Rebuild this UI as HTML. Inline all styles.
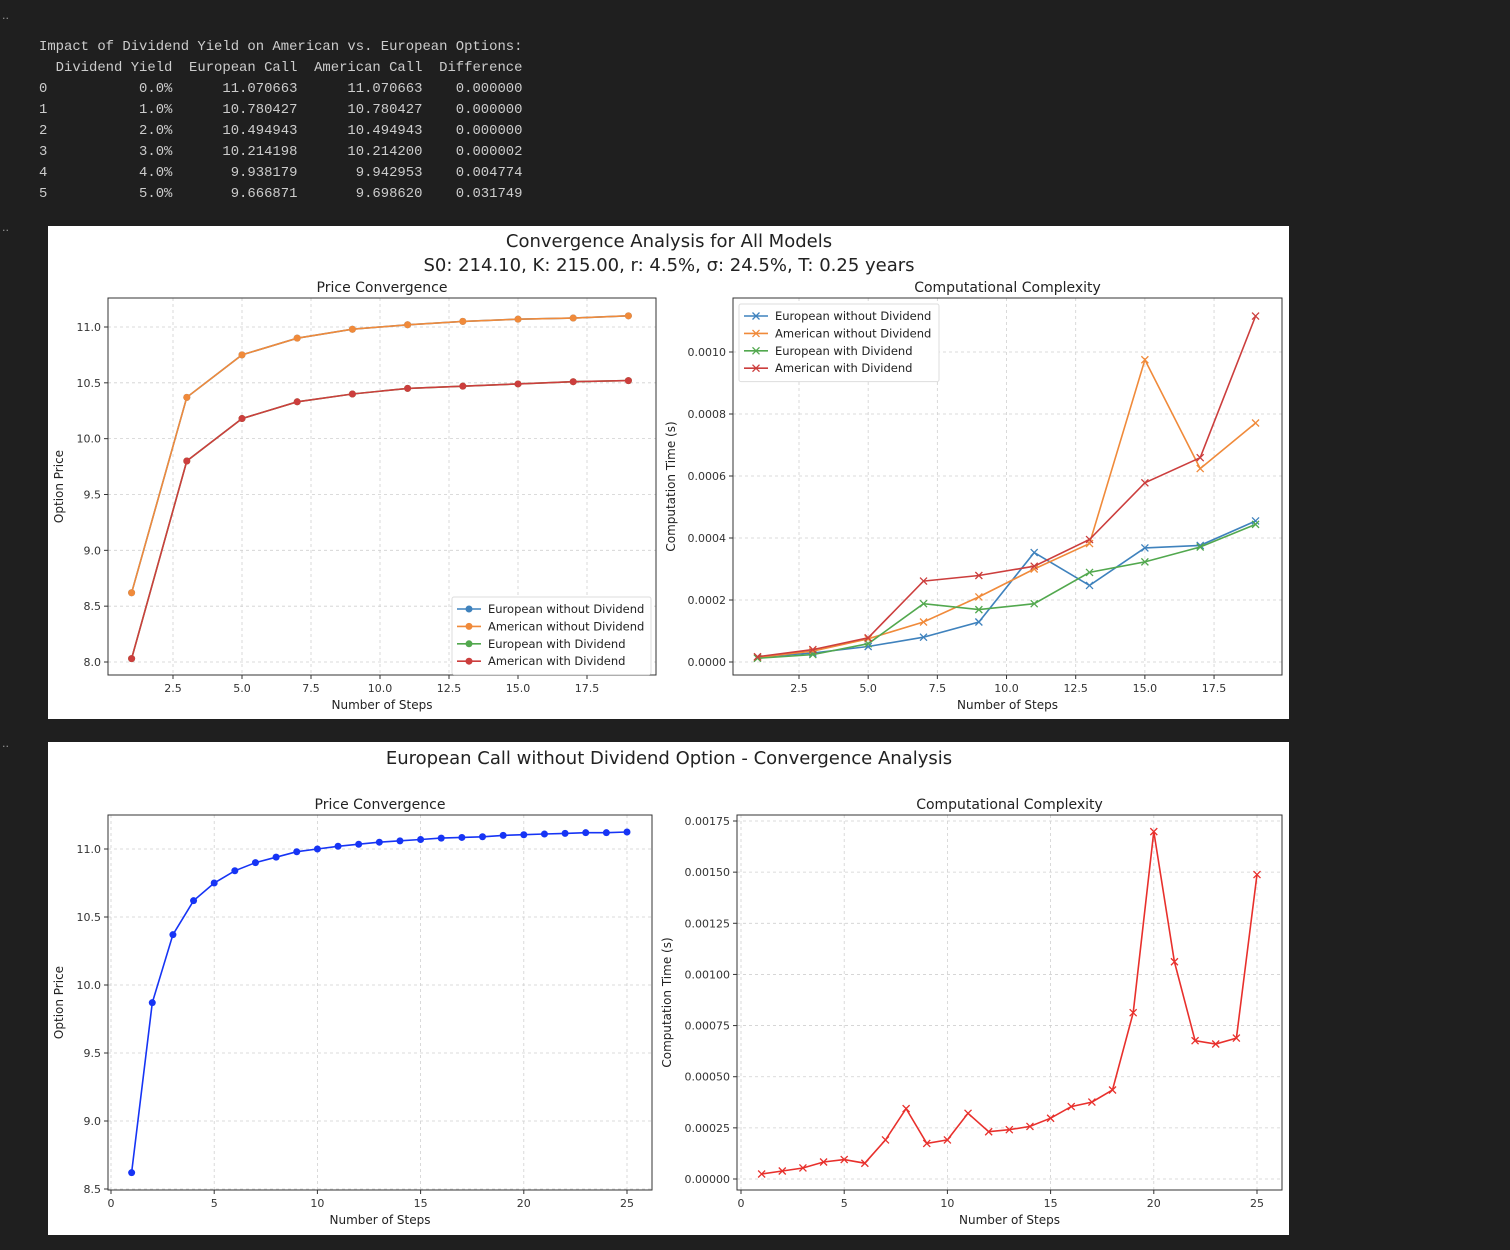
<!DOCTYPE html>
<html><head><meta charset="utf-8">
<style>
html,body{margin:0;padding:0;background:#1f1f1f;width:1510px;height:1250px;overflow:hidden}
.t{position:absolute;font-family:"Liberation Mono",monospace;font-size:13.9px;color:#cccccc;white-space:pre;line-height:21px}
.dots{position:absolute;color:#999;font-family:"DejaVu Sans",sans-serif;font-size:11px}
svg{position:absolute;left:0;top:0}
</style></head>
<body>
<div class="dots" style="left:2px;top:12px">··</div>
<div class="dots" style="left:2px;top:224px">··</div>
<div class="dots" style="left:2px;top:740px">··</div>
<div class="t" style="left:39px;top:37px">Impact of Dividend Yield on American vs. European Options:
  Dividend Yield  European Call  American Call  Difference
0           0.0%      11.070663      11.070663    0.000000
1           1.0%      10.780427      10.780427    0.000000
2           2.0%      10.494943      10.494943    0.000000
3           3.0%      10.214198      10.214200    0.000002
4           4.0%       9.938179       9.942953    0.004774
5           5.0%       9.666871       9.698620    0.031749</div>
<svg id="s" width="1510" height="1250" xmlns="http://www.w3.org/2000/svg" font-family="DejaVu Sans, Liberation Sans, sans-serif"></svg>
<script>
const stepsA = [1,3,5,7,9,11,13,15,17,19];
const priceNoDiv = [8.62,10.37,10.75,10.90,10.98,11.02,11.05,11.07,11.08,11.10];
const priceWithDiv = [8.03,9.80,10.18,10.33,10.40,10.45,10.47,10.49,10.51,10.52];
const timeEuroNoDiv = [0.000016,0.000029,0.000050,0.000080,0.000129,0.000353,0.000247,0.000368,0.000376,0.000455];
const timeAmerNoDiv = [0.000015,0.000035,0.000075,0.000129,0.000210,0.000300,0.000382,0.000975,0.000624,0.000771];
const timeEuroDiv = [0.000012,0.000024,0.000059,0.000188,0.000169,0.000188,0.000289,0.000323,0.000371,0.000444];
const timeAmerDiv = [0.000017,0.000040,0.000078,0.000261,0.000279,0.000309,0.000395,0.000578,0.000659,0.001116];
const stepsB = [1,2,3,4,5,6,7,8,9,10,11,12,13,14,15,16,17,18,19,20,21,22,23,24,25];
const priceEuroB = [8.62,9.87,10.37,10.62,10.75,10.84,10.90,10.94,10.98,11.00,11.02,11.035,11.05,11.06,11.07,11.08,11.085,11.09,11.10,11.105,11.11,11.115,11.12,11.12,11.125];
const timeEuroB = [0.0000244,0.000039,0.000054,0.000083,0.000095,0.000077,0.000191,0.000344,0.000174,0.000191,0.000321,0.000231,0.000241,0.000257,0.000297,0.000354,0.000376,0.000435,0.000813,0.001698,0.001062,0.000676,0.00066,0.000689,0.001488];
const ticksXA = [2.5,5.0,7.5,10.0,12.5,15.0,17.5];
const ticksYA1 = [8.0,8.5,9.0,9.5,10.0,10.5,11.0];
const ticksYA2 = [0,0.0002,0.0004,0.0006,0.0008,0.0010];
const ticksXB = [0,5,10,15,20,25];
const ticksYB1 = [8.5,9.0,9.5,10.0,10.5,11.0];
const ticksYB2 = [0,0.00025,0.0005,0.00075,0.001,0.00125,0.0015,0.00175];

const NS='http://www.w3.org/2000/svg';
const svg=document.getElementById('s');
function el(tag,attrs,parent,text){const e=document.createElementNS(NS,tag);for(const k in attrs)e.setAttribute(k,attrs[k]);if(text!==undefined)e.textContent=text;(parent||svg).appendChild(e);return e;}

// panels
const p1=el('rect',{x:48,y:226,width:1241,height:493,fill:'#fff'});


const p2=el('rect',{x:48,y:742,width:1241,height:493,fill:'#fff'});



function txt(x,y,s,size,anchor,name,extra){const t=el('text',Object.assign({x:x,y:y,'font-size':size,'text-anchor':anchor||'middle',fill:'#222'},extra||{}),svg,s);return t;}

txt(669,247,'Convergence Analysis for All Models',18,'middle','figure-title-1');
txt(669,271,'S0: 214.10, K: 215.00, r: 4.5%, σ: 24.5%, T: 0.25 years',18,'middle','figure-subtitle-1');
txt(669,764,'European Call without Dividend Option - Convergence Analysis',18,'middle','figure-title-2');

function chart(c){
  const g=el('g',{});
  
  
  const sx=v=>c.x0px+(v-c.x0v)*c.xs;
  const sy=v=>c.y0px-(v-c.y0v)*c.ys;
  // grid + ticks
  c.tx.forEach(v=>{const x=sx(v);
    const gl=el('line',{x1:x,x2:x,y1:c.top,y2:c.bot,stroke:'#d0d0d0','stroke-dasharray':'3,3','stroke-width':0.8},g);
    
    el('line',{x1:x,x2:x,y1:c.bot,y2:c.bot+4,stroke:'#333'},g);
    const t=el('text',{x:x,y:c.bot+17,'font-size':11,'text-anchor':'middle',fill:'#333'},g,c.fx(v));
    });
  c.ty.forEach(v=>{const y=sy(v);
    const gl=el('line',{x1:c.left,x2:c.right,y1:y,y2:y,stroke:'#d0d0d0','stroke-dasharray':'3,3','stroke-width':0.8},g);
    
    el('line',{x1:c.left-4,x2:c.left,y1:y,y2:y,stroke:'#333'},g);
    const t=el('text',{x:c.left-7,y:y+4,'font-size':11,'text-anchor':'end',fill:'#333'},g,c.fy(v));
    });
  const fr=el('rect',{x:c.left,y:c.top,width:c.right-c.left,height:c.bot-c.top,fill:'none',stroke:'#333','stroke-width':1},g);
  
  const tt=el('text',{x:(c.left+c.right)/2,y:c.top-6,'font-size':14,'text-anchor':'middle',fill:'#222'},g,c.title);
  
  const xl=el('text',{x:(c.left+c.right)/2,y:c.bot+34,'font-size':12,'text-anchor':'middle',fill:'#222'},g,'Number of Steps');
  
  const yx=c.ylx, yy=(c.top+c.bot)/2;
  const yl=el('text',{x:yx,y:yy,'font-size':12,'text-anchor':'middle',fill:'#222',transform:`rotate(-90 ${yx} ${yy})`},g,c.ytitle);
  
  c.series.forEach(s=>{
    const pts=c.xd.map((v,i)=>sx(v).toFixed(1)+','+sy(s.d[i]).toFixed(1)).join(' ');
    const pl=el('polyline',{points:pts,fill:'none',stroke:s.col,'stroke-width':1.6},g);
    
    c.xd.forEach((v,i)=>{const x=sx(v),y=sy(s.d[i]);let m;
      if(c.marker==='o'){m=el('circle',{cx:x,cy:y,r:3.5,fill:s.col},g);}
      else{m=el('path',{d:`M${x-3.5},${y-3.5}L${x+3.5},${y+3.5}M${x-3.5},${y+3.5}L${x+3.5},${y-3.5}`,stroke:s.col,'stroke-width':1.3},g);}
      });
  });
  if(c.legend){const L=c.legend;
    const lg=el('g',{},g);
    el('rect',{x:L.x,y:L.y,width:L.w,height:c.series.length*17.4+8,fill:'#fff',stroke:'#ddd',rx:2},lg);
    c.series.forEach((s,i)=>{const y=L.y+12+i*17.4;
      const e=el('g',{},lg);
      el('line',{x1:L.x+5,x2:L.x+29,y1:y,y2:y,stroke:s.col,'stroke-width':1.6},e);
      if(c.marker==='o')el('circle',{cx:L.x+17,cy:y,r:3.5,fill:s.col},e);
      else el('path',{d:`M${L.x+13.5},${y-3.5}L${L.x+20.5},${y+3.5}M${L.x+13.5},${y+3.5}L${L.x+20.5},${y-3.5}`,stroke:s.col,'stroke-width':1.3},e);
      el('text',{x:L.x+36,y:y+4,'font-size':11.5,fill:'#222'},e,s.label);});
  }
}
const C1='#3f82bd',C2='#f08a3a',C3='#52a84e',C4='#cc3e3d';
chart({name:'price-convergence-all-models',left:108,right:656,top:298,bot:675,x0px:131.6,x0v:1,xs:27.6,y0px:662,y0v:8,ys:111.67,
  tx:ticksXA,ty:ticksYA1,fx:v=>v.toFixed(1),fy:v=>v.toFixed(1),title:'Price Convergence',ytitle:'Option Price',ylx:63,
  xd:stepsA,marker:'o',legend:{x:452,y:597,w:199},
  series:[{name:'european-no-div',label:'European without Dividend',col:C1,d:priceNoDiv},
    {name:'american-no-div',label:'American without Dividend',col:C2,d:priceNoDiv},
    {name:'european-div',label:'European with Dividend',col:C3,d:priceWithDiv},
    {name:'american-div',label:'American with Dividend',col:C4,d:priceWithDiv}]});
chart({name:'computational-complexity-all-models',left:733,right:1282,top:298,bot:675,x0px:799,x0v:2.5,xs:27.67,y0px:662,y0v:0,ys:310000,
  tx:ticksXA,ty:ticksYA2,fx:v=>v.toFixed(1),fy:v=>v.toFixed(4),title:'Computational Complexity',ytitle:'Computation Time (s)',ylx:675,
  xd:stepsA,marker:'x',legend:{x:739,y:304,w:200},
  series:[{name:'european-no-div',label:'European without Dividend',col:C1,d:timeEuroNoDiv},
    {name:'american-no-div',label:'American without Dividend',col:C2,d:timeAmerNoDiv},
    {name:'european-div',label:'European with Dividend',col:C3,d:timeEuroDiv},
    {name:'american-div',label:'American with Dividend',col:C4,d:timeAmerDiv}]});
chart({name:'price-convergence-european',left:108,right:652,top:815,bot:1190,x0px:111,x0v:0,xs:20.64,y0px:1189,y0v:8.5,ys:136,
  tx:ticksXB,ty:ticksYB1,fx:v=>String(v),fy:v=>v.toFixed(1),title:'Price Convergence',ytitle:'Option Price',ylx:63,
  xd:stepsB,marker:'o',series:[{name:'european-price',label:'',col:'#1634f5',d:priceEuroB}]});
chart({name:'computational-complexity-european',left:737,right:1282,top:815,bot:1190,x0px:741,x0v:0,xs:20.64,y0px:1179,y0v:0,ys:204570,
  tx:ticksXB,ty:ticksYB2,fx:v=>String(v),fy:v=>v.toFixed(5),title:'Computational Complexity',ytitle:'Computation Time (s)',ylx:671,
  xd:stepsB,marker:'x',series:[{name:'european-time',label:'',col:'#e8302c',d:timeEuroB}]});
</script>
</body></html>
